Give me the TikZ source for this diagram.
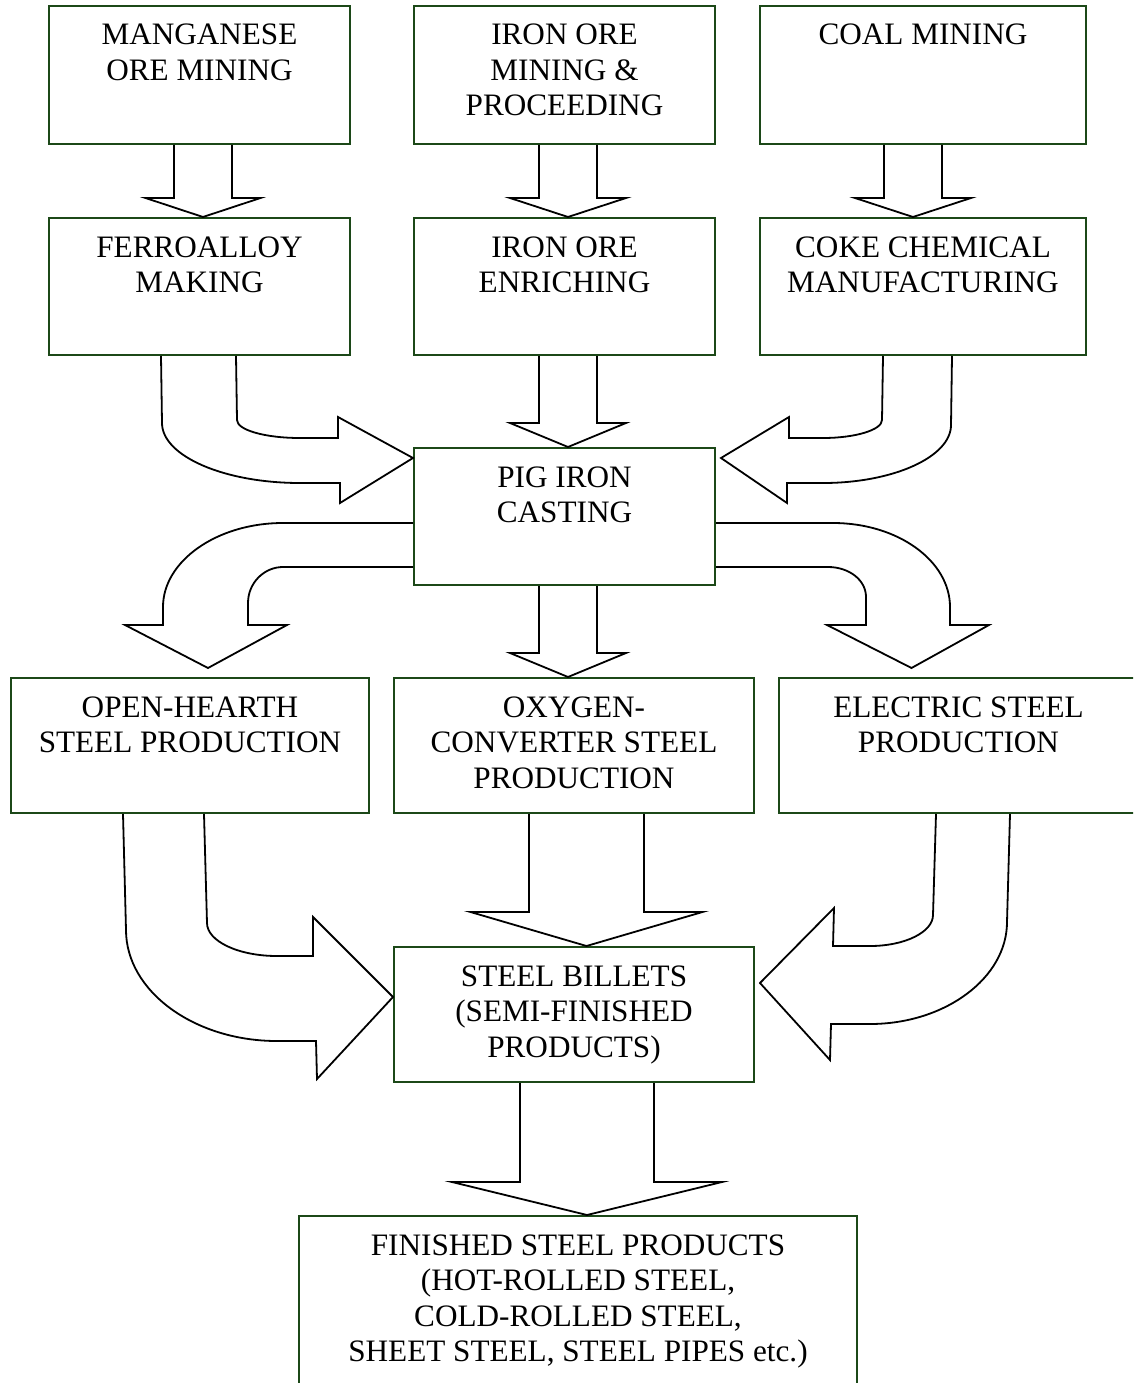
\documentclass[tikz,border=0pt]{standalone}
\usepackage{fontspec}
\setmainfont{Liberation Serif}
\usetikzlibrary{calc}
\definecolor{boxgreen}{RGB}{28,72,24}

\tikzset{
  procbox/.style={draw=boxgreen, line width=2pt, inner sep=0pt, anchor=north west,
    font=\fontsize{31.2}{35.5}\selectfont},
  blockline/.style={draw=black, line width=1.8pt, line join=miter},
}
% width, height, lines of text (set at the top of the box)
\newcommand{\boxtext}[3]{\parbox[c][#2pt][t]{#1pt}{\centering\rule{0pt}{39pt}#3}}
% straight block arrow: from, to, x shift, shaft half width, head half width, head length
\newcommand{\blockdown}[6]{%
  \draw[blockline] let \p1=($(#1.south)+(#3,0)$), \p2=(#2.north) in
    (\x1-#4pt,\y1) -- (\x1-#4pt,\y2+#6pt) -- (\x1-#5pt,\y2+#6pt) -- (\x1,\y2)
    -- (\x1+#5pt,\y2+#6pt) -- (\x1+#4pt,\y2+#6pt) -- (\x1+#4pt,\y1);}

\begin{document}
\begin{tikzpicture}[x=1pt,y=-1pt]
    \useasboundingbox (0,0) rectangle (1133,1383);
    \clip (0,0) rectangle (1133,1383);

    % Raw materials %
    \node[procbox] (mang) at (48,5) {\boxtext{301}{138}{MANGANESE\\ORE MINING}};
    \node[procbox] (ironmine) at (413,5) {\boxtext{301}{138}{IRON ORE\\MINING \&\\PROCEEDING}};
    \node[procbox] (coal) at (759,5) {\boxtext{326}{138}{COAL MINING}};

    \node[procbox] (ferro) at (48,217) {\boxtext{301}{137}{FERROALLOY\\MAKING}};
    \node[procbox] (enrich) at (413,217) {\boxtext{301}{137}{IRON ORE\\ENRICHING}};
    \node[procbox] (coke) at (759,217) {\boxtext{326}{137}{COKE CHEMICAL\\MANUFACTURING}};

    \node[procbox] (pig) at (413,447) {\boxtext{301}{137}{PIG IRON\\CASTING}};

    % Steel making %
    \node[procbox] (hearth) at (10,677) {\boxtext{358}{135}{OPEN-HEARTH\\STEEL PRODUCTION}};
    \node[procbox] (oxygen) at (393,677) {\boxtext{360}{135}{OXYGEN-\\CONVERTER STEEL\\PRODUCTION}};
    \node[procbox] (electric) at (778,677) {\boxtext{359}{135}{ELECTRIC STEEL\\PRODUCTION}};

    \node[procbox] (billets) at (393,946) {\boxtext{360}{135}{STEEL BILLETS\\(SEMI-FINISHED\\PRODUCTS)}};
    \node[procbox] (finished) at (298,1215) {\boxtext{558}{200}{FINISHED STEEL PRODUCTS\\(HOT-ROLLED STEEL,\\COLD-ROLLED STEEL,\\SHEET STEEL, STEEL PIPES etc.)}};

    % Straight arrows %
    \blockdown{mang}{ferro}{3.5}{29}{57.5}{19}
    \blockdown{ironmine}{enrich}{3.5}{29}{58}{19}
    \blockdown{coal}{coke}{-10}{29}{58}{19}
    \blockdown{enrich}{pig}{3.5}{29}{58}{24}
    \blockdown{pig}{oxygen}{3.5}{29}{58}{24}
    \blockdown{oxygen}{billets}{12.5}{57.5}{116}{34}
    \blockdown{billets}{finished}{13}{67}{135}{33}

    % Bent arrows into pig iron %
    \draw[blockline] ($(ferro.south west)+(113,0)$) -- (162,423)
        .. controls (162,456) and (224,483) .. (300,483) -- (340,483) -- (340,503)
        -- ($(pig.north west)+(0,11)$) -- (338,417) -- (338,438) -- (300,438)
        .. controls (265,438) and (237,430) .. (237,420) -- ($(ferro.south west)+(188,0)$);
    \draw[blockline] ($(coke.south west)+(124,0)$) -- (882,420)
        .. controls (882,430) and (855,438) .. (823,438) -- (789,438) -- (789,417)
        -- ($(pig.north east)+(5,11)$) -- (787,503) -- (787,483) -- (823,483)
        .. controls (893,483) and (951,457) .. (951,425) -- ($(coke.south west)+(193,0)$);

    % Bent arrows out of pig iron %
    \draw[blockline] ($(pig.north west)+(0,76)$) -- (283,523)
        .. controls (217,523) and (163,561) .. (163,607) -- (163,625) -- (125,625)
        -- ($(hearth.north)+(18,-9)$) -- (287,625) -- (248,625) -- (248,603)
        .. controls (248,583) and (264,567) .. (283,567) -- ($(pig.north west)+(0,120)$);
    \draw[blockline] ($(pig.north east)+(0,76)$) -- (833,523)
        .. controls (898,523) and (950,561) .. (950,607) -- (950,625) -- (989,625)
        -- ($(electric.north)+(-47,-9)$) -- (827,625) -- (866,625) -- (866,597)
        .. controls (866,580) and (849,567) .. (828,567) -- ($(pig.north east)+(0,120)$);

    % Bent arrows into billets %
    \draw[blockline] ($(hearth.south west)+(113,0)$) -- (126,930)
        .. controls (126,991) and (194,1041) .. (277,1041) -- (316,1041) -- (317,1079)
        -- ($(billets.north west)+(0,51)$) -- (313,917) -- (313,956) -- (277,956)
        .. controls (238,956) and (207,941) .. (207,923) -- ($(hearth.south west)+(194,0)$);
    \draw[blockline] ($(electric.south west)+(158,0)$) -- (933,915)
        .. controls (933,932) and (905,946) .. (870,946) -- (833,946) -- (834,908)
        -- ($(billets.north east)+(5,37)$) -- (830,1060) -- (831,1024) -- (870,1024)
        .. controls (945,1024) and (1007,978) .. (1007,922) -- ($(electric.south west)+(232,0)$);
\end{tikzpicture}
\end{document}
